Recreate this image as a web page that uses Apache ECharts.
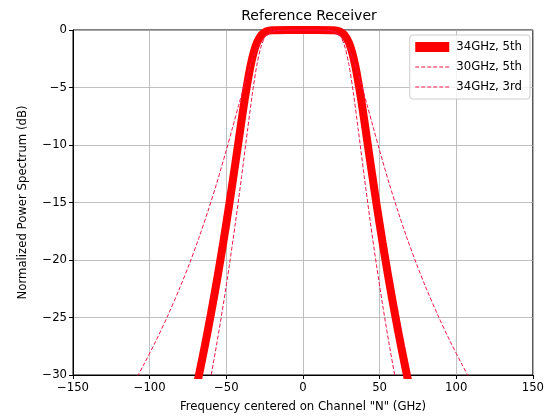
<!DOCTYPE html>
<html>
<head>
<meta charset="utf-8">
<script src="https://cdn.jsdelivr.net/npm/echarts@6/dist/echarts.min.js"></script>
<style>
  html, body { margin: 0; padding: 0; background: #fff; }
  #chart { width: 547px; height: 418px; }
</style>
</head>
<body>
<div id="chart"></div>
<script>
// Normalized power spectrum of the receiver filter options, [GHz, dB]
const seriesNames = ['34GHz, 5th', '30GHz, 5th', '34GHz, 3rd'];

const resp34n5 = [
  [-70, -31.36], [-68, -30.11], [-64, -27.48], [-60, -24.68], [-56, -21.70],
  [-52, -18.51], [-48, -15.11], [-44, -11.52], [-40, -7.84], [-38, -6.06],
  [-36, -4.43], [-34, -3.01], [-32, -1.89], [-30, -1.09], [-27, -0.41],
  [-24, -0.13], [-20, -0.02], [-10, 0.00], [0, 0.00], [10, 0.00],
  [20, -0.02], [24, -0.13], [27, -0.41], [30, -1.09], [32, -1.89],
  [34, -3.01], [36, -4.43], [38, -6.06], [40, -7.84], [44, -11.52],
  [48, -15.11], [52, -18.51], [56, -21.70], [60, -24.68], [64, -27.48],
  [68, -30.11], [70, -31.36]
];

const resp30n5 = [
  [-62, -31.53], [-60, -30.11], [-56, -27.12], [-52, -23.91], [-48, -20.45],
  [-44, -16.73], [-40, -12.73], [-36, -8.57], [-33, -5.56], [-30, -3.01],
  [-27, -1.30], [-24, -0.44], [-21, -0.12], [-18, -0.03], [-10, 0.00],
  [0, 0.00], [10, 0.00], [18, -0.03], [21, -0.12], [24, -0.44],
  [27, -1.30], [30, -3.01], [33, -5.56], [36, -8.57], [40, -12.73],
  [44, -16.73], [48, -20.45], [52, -23.91], [56, -27.12], [60, -30.11],
  [62, -31.53]
];

const resp34n3 = [
  [-110, -30.60], [-104, -29.14], [-96, -27.06], [-88, -24.79], [-80, -22.32],
  [-74, -20.31], [-68, -18.13], [-62, -15.77], [-56, -13.22], [-50, -10.46],
  [-46, -8.53], [-42, -6.58], [-38, -4.70], [-34, -3.01], [-31, -1.97],
  [-28, -1.18], [-24, -0.51], [-20, -0.18], [-15, -0.03], [-10, 0.00],
  [0, 0.00], [10, 0.00], [15, -0.03], [20, -0.18], [24, -0.51],
  [28, -1.18], [31, -1.97], [34, -3.01], [38, -4.70], [42, -6.58],
  [46, -8.53], [50, -10.46], [56, -13.22], [62, -15.77], [68, -18.13],
  [74, -20.31], [80, -22.32], [88, -24.79], [96, -27.06], [104, -29.14],
  [110, -30.60]
];

const xTicks = { min: -150, max: 150, step: 50 };
const yTicks = { min: -30, max: 0, step: 5 };

const FONT = 'DejaVu Sans';
const minus = v => String(v).replace('-', '\u2212');

const chart = echarts.init(document.getElementById('chart'), null, { renderer: 'canvas' });

chart.setOption({
  animation: false,
  backgroundColor: '#ffffff',
  title: {
    text: 'Reference Receiver',
    left: 304, top: 4, textAlign: 'center',
    textStyle: { fontFamily: FONT, fontSize: 14, fontWeight: 'normal', color: '#000' }
  },
  grid: {
    left: 73, right: 12, top: 30, bottom: 42,
    show: true, borderColor: '#000', borderWidth: 1, backgroundColor: 'transparent'
  },
  legend: {
    orient: 'vertical',
    right: 17, top: 35,
    itemWidth: 34, itemHeight: 10, itemGap: 8,
    padding: [6, 8, 6, 5],
    backgroundColor: 'rgba(255,255,255,0.8)',
    borderColor: '#cccccc', borderWidth: 1, borderRadius: 3,
    itemStyle: { opacity: 0 },
    textStyle: { fontFamily: FONT, fontSize: 11.7, color: '#000', padding: [0, 0, 0, 2] },
    data: [
      { name: seriesNames[0], icon: 'rect', itemStyle: { opacity: 1, color: '#ff0000' } },
      { name: seriesNames[1], lineStyle: { width: 1 } },
      { name: seriesNames[2], lineStyle: { width: 1 } }
    ]
  },
  xAxis: {
    type: 'value',
    min: xTicks.min, max: xTicks.max, interval: xTicks.step,
    name: 'Frequency centered on Channel "N" (GHz)',
    nameLocation: 'middle', nameGap: 26,
    nameTextStyle: { fontFamily: FONT, fontSize: 11.7, color: '#000' },
    axisLine: { onZero: false, lineStyle: { color: '#000', width: 1 } },
    axisTick: { show: true, length: 4, lineStyle: { color: '#000' } },
    axisLabel: { fontFamily: FONT, fontSize: 11.7, color: '#000', margin: 7, formatter: minus },
    splitLine: { show: true, lineStyle: { color: '#b0b0b0', width: 0.8 } }
  },
  yAxis: {
    type: 'value',
    min: yTicks.min, max: yTicks.max, interval: yTicks.step,
    name: 'Normalized Power Spectrum (dB)',
    nameLocation: 'middle', nameGap: 44, nameRotate: 90,
    nameTextStyle: { fontFamily: FONT, fontSize: 11.7, color: '#000' },
    axisLine: { onZero: false, show: true, lineStyle: { color: '#000', width: 1 } },
    axisTick: { show: true, length: 4, lineStyle: { color: '#000' } },
    axisLabel: { fontFamily: FONT, fontSize: 11.7, color: '#000', margin: 6, formatter: minus },
    splitLine: { show: true, lineStyle: { color: '#b0b0b0', width: 0.8 } }
  },
  series: [
    {
      name: seriesNames[0], type: 'line', data: resp34n5,
      showSymbol: false, symbol: 'none', smooth: 0.3, clip: true,
      lineStyle: { color: '#ff0000', width: 8 },
      itemStyle: { color: '#ff0000' }
    },
    {
      name: seriesNames[1], type: 'line', data: resp30n5,
      showSymbol: false, symbol: 'none', smooth: 0.3, clip: true,
      lineStyle: { color: '#f5164a', width: 1, type: [4, 2] },
      itemStyle: { color: '#f5164a' }
    },
    {
      name: seriesNames[2], type: 'line', data: resp34n3,
      showSymbol: false, symbol: 'none', smooth: 0.3, clip: true,
      lineStyle: { color: '#f5164a', width: 1, type: [4, 2] },
      itemStyle: { color: '#f5164a' }
    }
  ]
});
</script>
</body>
</html>
